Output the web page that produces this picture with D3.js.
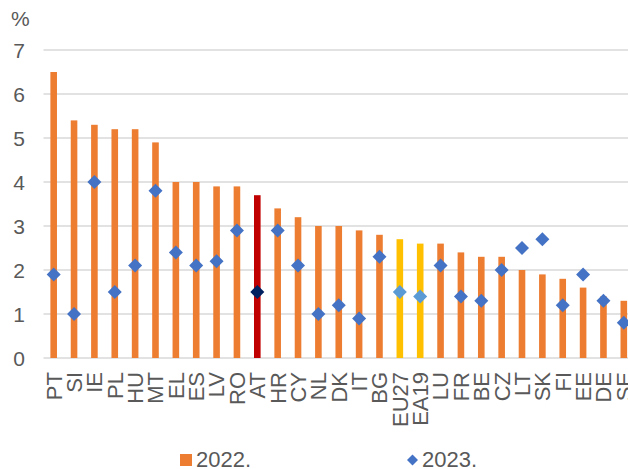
<!DOCTYPE html>
<meta charset="utf-8">
<title>2022 vs 2023</title>
<style>

body {
  margin: 0;
  overflow: hidden;
}

text {
  font-family: "Liberation Sans", Arial, sans-serif;
  fill: #595959;
}

</style>
<body>
  <script src="https://d3js.org/d3.v7.min.js"></script>
  <script>

  const categories = ["PT", "SI", "IE", "PL", "HU", "MT", "EL", "ES", "LV", "RO", "AT", "HR", "CY", "NL", "DK",
    "IT", "BG", "EU27", "EA19", "LU", "FR", "BE", "CZ", "LT", "SK", "FI", "EE", "DE", "SE"];
  const values2022 = [6.5, 5.4, 5.3, 5.2, 5.2, 4.9, 4.0, 4.0, 3.9, 3.9, 3.7, 3.4, 3.2, 3.0, 3.0,
    2.9, 2.8, 2.7, 2.6, 2.6, 2.4, 2.3, 2.3, 2.0, 1.9, 1.8, 1.6, 1.4, 1.3];
  const values2023 = [1.9, 1.0, 4.0, 1.5, 2.1, 3.8, 2.4, 2.1, 2.2, 2.9, 1.5, 2.9, 2.1, 1.0, 1.2,
    0.9, 2.3, 1.5, 1.4, 2.1, 1.4, 1.3, 2.0, 2.5, 2.7, 1.2, 1.9, 1.3, 0.8];
  const yTicks = [0, 1, 2, 3, 4, 5, 6, 7];
  const highlighted = ["AT"];
  const aggregates = ["EU27", "EA19"];
  const seriesNames = ["2022.", "2023."];

  const width = 628;
  const height = 469;
  const margin = {left: 43.5, right: 634, top: 50, bottom: 358};

  const svg = d3.select("body").append("svg")
      .attr("width", width)
      .attr("height", height);

  const x = d3.scaleBand()
      .domain(categories)
      .range([margin.left, margin.right]);

  const y = d3.scaleLinear()
      .domain([0, 7])
      .range([margin.bottom, margin.top]);

  const barColor = c => highlighted.includes(c) ? "#C00000" : aggregates.includes(c) ? "#FFC000" : "#ED7D31";
  const dotColor = c => highlighted.includes(c) ? "#002060" : aggregates.includes(c) ? "#5B9BD5" : "#4472C4";

  // gridlines
  svg.append("g")
    .selectAll("line")
    .data(yTicks)
    .enter().append("line")
      .attr("x1", margin.left)
      .attr("x2", width)
      .attr("y1", d => y(d))
      .attr("y2", d => y(d))
      .attr("stroke", "#D9D9D9")
      .attr("stroke-width", 1.4);

  // y tick labels
  svg.append("g")
    .selectAll("text")
    .data(yTicks)
    .enter().append("text")
      .attr("x", 25)
      .attr("y", d => y(d))
      .attr("dy", "0.36em")
      .attr("text-anchor", "end")
      .style("font-size", "21px")
      .text(d => d);

  svg.append("text")
      .attr("x", 11)
      .attr("y", 26)
      .style("font-size", "21px")
      .text("%");

  // bars 2022
  const barW = 6.6;
  svg.append("g")
    .selectAll("rect")
    .data(categories)
    .enter().append("rect")
      .attr("x", d => x(d) + x.bandwidth() / 2 - barW / 2)
      .attr("y", (d, i) => y(values2022[i]))
      .attr("width", barW)
      .attr("height", (d, i) => y(0) - y(values2022[i]))
      .attr("fill", barColor);

  // diamonds 2023
  const diamond = d3.symbol().type(d3.symbolSquare).size(98);
  svg.append("g")
    .selectAll("path")
    .data(categories)
    .enter().append("path")
      .attr("d", diamond)
      .attr("transform", (d, i) => "translate(" + (x(d) + x.bandwidth() / 2) + "," + y(values2023[i]) + ")rotate(45)")
      .attr("fill", dotColor);

  // x labels
  svg.append("g")
    .selectAll("text")
    .data(categories)
    .enter().append("text")
      .attr("transform", d => "translate(" + (x(d) + x.bandwidth() / 2) + "," + (y(0) + 14) + ")rotate(-90)")
      .attr("dy", "0.36em")
      .attr("text-anchor", "end")
      .style("font-size", "22px")
      .text(d => d);

  // legend
  const legend = svg.append("g");
  legend.append("rect")
      .attr("x", 180)
      .attr("y", 454)
      .attr("width", 12)
      .attr("height", 12)
      .attr("fill", "#ED7D31");
  legend.append("text")
      .attr("x", 196)
      .attr("y", 467)
      .style("font-size", "22px")
      .text(seriesNames[0]);
  legend.append("path")
      .attr("d", d3.symbol().type(d3.symbolSquare).size(60))
      .attr("transform", "translate(412.5,460)rotate(45)")
      .attr("fill", "#4472C4");
  legend.append("text")
      .attr("x", 422)
      .attr("y", 467)
      .style("font-size", "22px")
      .text(seriesNames[1]);

  </script>
</body>
